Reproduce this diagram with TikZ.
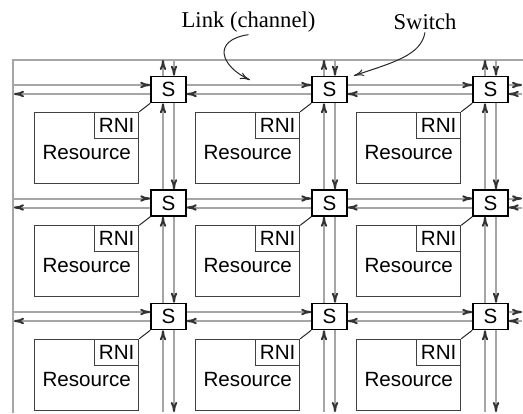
\documentclass[tikz,border=0pt]{standalone}
\usepackage{fontspec}
\setmainfont{Liberation Serif}
\setsansfont{Liberation Sans}
\usetikzlibrary{
    arrows.meta,
    positioning
}
\newcommand{\resfont}{\sffamily\fontsize{10.3}{12}\selectfont}
\tikzset{
    meshDiagram/.style={
        switchnode/.style={
            rectangle,
            draw,
            line width=0.8pt,
            fill=white,
            minimum width=17.5pt,
            minimum height=13pt,
            inner sep=0pt,
            font=\resfont,
        },
        resource/.style={
            rectangle,
            draw=black!75,
            line width=0.5pt,
            minimum width=52pt,
            minimum height=35.5pt,
            inner sep=0pt,
        },
        rni/.style={
            rectangle,
            draw=black!75,
            line width=0.5pt,
            minimum width=22pt,
            minimum height=13pt,
            inner sep=0pt,
            anchor=north east,
            font=\resfont,
        },
        restext/.style={
            inner sep=0pt,
            font=\resfont,
        },
        tap/.style={
            draw=black!85,
            line width=0.5pt,
        },
        channel/.style={
            draw=black!35,
            line width=1pt,
        },
        flow/.style={
            channel,
            -{To[length=5pt,width=3.2pt,color=black!80]},
        },
        caption/.style={
            inner sep=1pt,
            font=\fontsize{11.3}{13}\selectfont,
        },
        pointer/.style={
            draw=black!85,
            line width=0.5pt,
            -{To[length=5pt,width=3.5pt]},
        },
    }
}

\begin{document}
\begin{tikzpicture}[meshDiagram, x=0.5pt, y=-0.5pt]
    \useasboundingbox (0,0) rectangle (523,413);

    \coordinate (frameSW) at (13,413);
    \coordinate (frameNE) at (523,60);
    \draw[channel] (frameSW) |- (frameNE);

    \foreach \r/\y in {1/89.5, 2/203, 3/316.5} {
        \foreach \c/\x in {1/168.5, 2/329.5, 3/490.5} {
            \node[switchnode] (S-\r-\c) at (\x,\y) {S};
            \node[resource, below left=4.25pt and 5.5pt of S-\r-\c.south west] (R-\r-\c) {};
            \node[rni] (N-\r-\c) at (R-\r-\c.north east) {RNI};
            \node[restext] (T-\r-\c) at ([yshift=-2.25pt]R-\r-\c.center) {Resource};
            \draw[tap] (N-\r-\c.north east) -- (S-\r-\c.south west);
        }
        \coordinate (W-\r) at (14,\y);
        \coordinate (E-\r) at (522,\y);
    }
    \foreach \c/\x in {1/168.5, 2/329.5, 3/490.5} {
        \coordinate (top-\c) at (\x,60);
        \coordinate (bot-\c) at (\x,412);
    }

    % row channels, east-bound on top, west-bound below
    \foreach \r in {1,2,3} {
        \foreach \c/\n in {1/2, 2/3} {
            \draw[flow] ([yshift=2.25pt]S-\r-\c.east) -- ([yshift=2.25pt]S-\r-\n.west);
            \draw[flow] ([yshift=-2.25pt]S-\r-\n.west) -- ([yshift=-2.25pt]S-\r-\c.east);
        }
        \draw[flow] ([yshift=2.25pt]W-\r) -- ([yshift=2.25pt]S-\r-1.west);
        \draw[flow] ([yshift=-2.25pt]S-\r-1.west) -- ([yshift=-2.25pt]W-\r);
        \draw[flow] ([yshift=2.25pt]S-\r-3.east) -- ([yshift=2.25pt]E-\r);
        \draw[flow] ([yshift=-2.25pt]E-\r) -- ([yshift=-2.25pt]S-\r-3.east);
    }

    % column channels, north-bound on the left, south-bound on the right
    \foreach \c in {1,2,3} {
        \foreach \r/\n in {1/2, 2/3} {
            \draw[flow] ([xshift=-2.75pt]S-\n-\c.north) -- ([xshift=-2.75pt]S-\r-\c.south);
            \draw[flow] ([xshift=2.75pt]S-\r-\c.south) -- ([xshift=2.75pt]S-\n-\c.north);
        }
        \draw[flow] ([xshift=-2.75pt]S-1-\c.north) -- ([xshift=-2.75pt]top-\c);
        \draw[flow] ([xshift=2.75pt]top-\c) -- ([xshift=2.75pt]S-1-\c.north);
        \draw[flow] ([xshift=-2.75pt]bot-\c) -- ([xshift=-2.75pt]S-3-\c.south);
        \draw[flow] ([xshift=2.75pt]S-3-\c.south) -- ([xshift=2.75pt]bot-\c);
    }

    \node[caption] (link) at (248.5,22) {Link (channel)};
    \node[caption] (switch) at (425,22) {Switch};
    \coordinate (linkmark) at (250,80);
    \draw[pointer] (link.south) .. controls (212,40) and (220,66) .. (linkmark);
    \draw[pointer] (switch.south) .. controls (421,55) and (395,62) .. ([xshift=3pt]S-1-2.north east);
\end{tikzpicture}
\end{document}
